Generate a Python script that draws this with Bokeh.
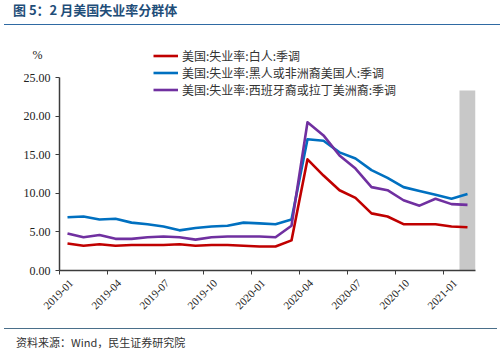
from bokeh.plotting import figure
from bokeh.layouts import column
from bokeh.models import (Range1d, FixedTicker, Legend, LegendItem, LinearAxis,
                          NumeralTickFormatter, Div)
from bokeh.embed import file_html
from bokeh.resources import INLINE

months = ["2019-01", "2019-02", "2019-03", "2019-04", "2019-05", "2019-06",
          "2019-07", "2019-08", "2019-09", "2019-10", "2019-11", "2019-12",
          "2020-01", "2020-02", "2020-03", "2020-04", "2020-05", "2020-06",
          "2020-07", "2020-08", "2020-09", "2020-10", "2020-11", "2020-12",
          "2021-01", "2021-02"]
white = [3.5, 3.2, 3.4, 3.2, 3.3, 3.3, 3.3, 3.4, 3.2, 3.3, 3.3, 3.2, 3.1,
         3.1, 3.9, 14.4, 12.3, 10.4, 9.4, 7.4, 7.0, 6.0, 6.0, 6.0, 5.7, 5.6]
black = [6.9, 7.0, 6.6, 6.7, 6.2, 6.0, 5.7, 5.2, 5.5, 5.7, 5.8, 6.2, 6.1,
         6.0, 6.6, 17.0, 16.8, 15.3, 14.5, 13.0, 12.0, 10.8, 10.3, 9.8, 9.3, 9.9]
hispanic = [4.8, 4.3, 4.6, 4.1, 4.1, 4.3, 4.4, 4.3, 4.0, 4.3, 4.4, 4.4, 4.4,
            4.3, 5.8, 19.2, 17.5, 14.9, 13.2, 10.8, 10.4, 9.1, 8.4, 9.3, 8.6, 8.5]
series_names = ["美国:失业率:白人:季调",
                "美国:失业率:黑人或非洲裔美国人:季调",
                "美国:失业率:西班牙裔或拉丁美洲裔:季调"]
band_month = "2021-02"
band_top = 23.3
y_ticks = [0, 5, 10, 15, 20, 25]
y_max = 25
x_tick_months = months[::3]
title_text = "图 5：2 月美国失业率分群体"
source_text = "资料来源：Wind，民生证券研究院"
unit_text = "%"

CJK = "Noto Sans CJK SC"
SERIF = "Liberation Serif"
AXIS_COLOR = "#3c3c3c"

# frame: canvas x 59..475, y FRAME_TOP..270 ; y=25 at canvas 77
FIG_TOP = 27
FRAME_TOP = 38
AXIS_TOP = 77
FRAME_BOTTOM = 270
FIG_H = 295
y_end = y_max * (FRAME_BOTTOM - FRAME_TOP) / (FRAME_BOTTOM - AXIS_TOP)

p = figure(width=500, height=FIG_H, output_backend="svg", toolbar_location=None,
           x_range=Range1d(0, len(months)), y_range=Range1d(0, y_end),
           min_border_left=59, min_border_right=25,
           min_border_top=FRAME_TOP - FIG_TOP,
           min_border_bottom=FIG_TOP + FIG_H - FRAME_BOTTOM)
p.outline_line_color = None
p.grid.visible = False
p.background_fill_color = "white"

# gray band
bi = months.index(band_month)
p.quad(left=[bi], right=[bi + 1], bottom=[0], top=[band_top],
       fill_color="#C8C8C8", line_color=None)

xs = [i + 0.5 for i in range(len(months))]
colors = ["#C00000", "#0070C0", "#7030A0"]
renderers = []
for data, c in zip([white, black, hispanic], colors):
    r = p.line(xs, data, line_color=c, line_width=2.6, line_join="round")
    renderers.append(r)

legend = Legend(items=[LegendItem(label=n, renderers=[r])
                       for n, r in zip(series_names, renderers)],
                location=(94, FRAME_BOTTOM - 98), orientation="vertical",
                glyph_width=25, glyph_height=15, label_height=15,
                label_standoff=4, spacing=-2, padding=0, margin=0,
                border_line_color=None, background_fill_alpha=0,
                label_text_font=CJK, label_text_font_size="12px",
                label_text_color="#333333")
p.add_layout(legend, "center")

# x axis: tick marks at month boundaries
tick_pos = [months.index(m) for m in x_tick_months]
xa = p.xaxis[0]
xa.ticker = FixedTicker(ticks=tick_pos)
xa.major_label_overrides = {t: "" for t in tick_pos}
xa.major_label_text_font_size = "0px"
xa.major_label_standoff = 0
xa.major_tick_out = 4
xa.major_tick_in = 0
xa.minor_tick_out = 0
xa.minor_tick_in = 0
xa.axis_line_color = AXIS_COLOR
xa.axis_line_width = 1.5
xa.major_tick_line_color = AXIS_COLOR

# x labels: a line-less axis, labels shifted as in the reference
label_shift = 0.75
lab_pos = [t + label_shift for t in tick_pos]
xl = LinearAxis(ticker=FixedTicker(ticks=lab_pos),
                major_label_overrides={lp: m for lp, m in zip(lab_pos, x_tick_months)},
                axis_line_color=None, major_tick_line_color=None,
                minor_tick_line_color=None, major_tick_out=0, major_tick_in=0,
                minor_tick_out=0, minor_tick_in=0,
                major_label_orientation=0.785398,
                major_label_text_font=SERIF, major_label_text_font_size="11px",
                major_label_text_color="#222222", major_label_standoff=7)
p.add_layout(xl, "below")

# y axis
ya = p.yaxis[0]
ya.ticker = FixedTicker(ticks=y_ticks)
ya.bounds = (0, y_max)
ya.formatter = NumeralTickFormatter(format="0.00")
ya.major_label_text_font = SERIF
ya.major_label_text_font_size = "12px"
ya.major_label_text_color = "#222222"
ya.major_label_standoff = 5
ya.major_tick_out = 4
ya.major_tick_in = 0
ya.minor_tick_out = 0
ya.minor_tick_in = 0
ya.axis_line_color = AXIS_COLOR
ya.axis_line_width = 1.5
ya.major_tick_line_color = AXIS_COLOR

# "%" unit as a second, line-less left axis with one labelled tick
unit_pos = (FRAME_BOTTOM - 54) / (FRAME_BOTTOM - AXIS_TOP) * y_max
ua = LinearAxis(ticker=FixedTicker(ticks=[unit_pos]),
                major_label_overrides={unit_pos: unit_text},
                axis_line_color=None, major_tick_line_color=None,
                minor_tick_line_color=None, major_tick_out=0, major_tick_in=0,
                minor_tick_out=0, minor_tick_in=0,
                major_label_text_font=SERIF, major_label_text_font_size="12px",
                major_label_text_color="#222222",
                major_label_text_align="left",
                major_label_standoff=-22)
p.add_layout(ua, "left")

title_div = Div(text=(
    "<div style=\"width:496px;height:25px;margin-left:4px;"
    "border-bottom:1.5px solid #2F6AA3;box-sizing:border-box;"
    "font-family:'Noto Sans CJK SC';font-size:13px;font-weight:bold;"
    "color:#1F4E79;line-height:20px;padding-left:9px;white-space:nowrap;\">"
    + title_text + "</div>"), width=500, height=FIG_TOP, margin=(0, 0, 0, 0))

source_div = Div(text=(
    "<div style=\"width:493px;margin-left:4px;margin-top:6px;"
    "border-top:1.5px solid #4A6F8A;padding-left:12px;padding-top:6px;"
    "font-family:'Noto Sans CJK SC';font-size:11px;color:#333333;"
    "line-height:14px;white-space:nowrap;\">"
    + source_text + "</div>"), width=500, height=352 - FIG_TOP - FIG_H,
    margin=(0, 0, 0, 0))

layout = column(title_div, p, source_div, spacing=0)

open("out.html", "w").write(file_html(layout, INLINE))
